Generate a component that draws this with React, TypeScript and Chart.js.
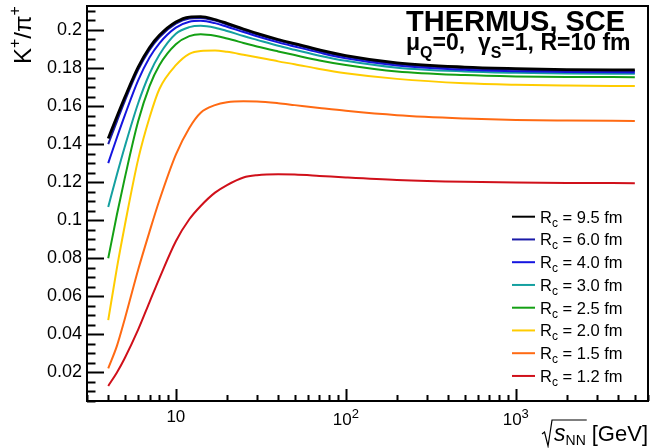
import React, { useEffect, useRef } from "react";
import { Chart, registerables } from "chart.js";

Chart.register(...registerables);

// sqrt(s_NN) in GeV
const energies = [4, 4.5, 5, 6, 7, 8, 10, 12, 14, 17, 20, 25, 30, 40, 50, 70, 100, 200, 500, 1000, 2000, 5020];

const rc95 = [0.143, 0.1545, 0.1645, 0.1805, 0.1908, 0.1972, 0.2042, 0.2068, 0.207, 0.2055, 0.2035, 0.2005, 0.1982, 0.195, 0.1928, 0.1895, 0.1865, 0.1827, 0.1805, 0.1797, 0.1792, 0.179];
const rc60 = [0.14, 0.152, 0.1625, 0.179, 0.1895, 0.1962, 0.2033, 0.206, 0.2063, 0.2049, 0.2029, 0.2, 0.1977, 0.1945, 0.1923, 0.189, 0.186, 0.1821, 0.1799, 0.1791, 0.1786, 0.1784];
const rc40 = [0.13, 0.1435, 0.155, 0.1735, 0.1855, 0.193, 0.2012, 0.2043, 0.2048, 0.2036, 0.2017, 0.1989, 0.1967, 0.1935, 0.1913, 0.1881, 0.1851, 0.1813, 0.1791, 0.1783, 0.1779, 0.1777];
const rc30 = [0.107, 0.124, 0.1385, 0.1615, 0.177, 0.187, 0.198, 0.2015, 0.2022, 0.2012, 0.1995, 0.1968, 0.1948, 0.1917, 0.1896, 0.1865, 0.1838, 0.1802, 0.1782, 0.1775, 0.1771, 0.177];
const rc25 = [0.08, 0.103, 0.122, 0.152, 0.1705, 0.1815, 0.1925, 0.1968, 0.1978, 0.197, 0.1955, 0.1932, 0.1913, 0.1887, 0.1868, 0.184, 0.1816, 0.1782, 0.1763, 0.1756, 0.1753, 0.1752];
const rc20 = [0.0475, 0.075, 0.097, 0.132, 0.154, 0.169, 0.1815, 0.1875, 0.189, 0.1892, 0.1885, 0.187, 0.1857, 0.1835, 0.182, 0.1795, 0.1773, 0.1743, 0.172, 0.1712, 0.1708, 0.1705];
const rc15 = [0.0222, 0.034, 0.048, 0.074, 0.094, 0.1105, 0.1345, 0.1485, 0.1565, 0.1605, 0.162, 0.1625, 0.1624, 0.1615, 0.1605, 0.159, 0.1575, 0.1552, 0.1535, 0.1527, 0.1524, 0.1522];
const rc12 = [0.0129, 0.02, 0.0275, 0.0425, 0.057, 0.0695, 0.089, 0.1005, 0.1075, 0.1145, 0.1185, 0.1225, 0.1237, 0.1242, 0.124, 0.1233, 0.1225, 0.1212, 0.1202, 0.1198, 0.1196, 0.1195];

const seriesValues = [rc95, rc60, rc40, rc30, rc25, rc20, rc15, rc12];
const seriesRadii = ["9.5", "6.0", "4.0", "3.0", "2.5", "2.0", "1.5", "1.2"];
const seriesColors = ["#000000", "#1a1aa8", "#1515e0", "#14a0a0", "#14a014", "#ffcc00", "#ff6a13", "#d0101a"];
const seriesWidths = [2.8, 2, 2, 2, 2, 2, 2, 2];

const yMajorTicks = [0.02, 0.04, 0.06, 0.08, 0.1, 0.12, 0.14, 0.16, 0.18, 0.2];
const yTickLabels = ["0.02", "0.04", "0.06", "0.08", "0.1", "0.12", "0.14", "0.16", "0.18", "0.2"];
const xMajorTicks = [10, 100, 1000];
const xTickBase = ["10", "10", "10"];
const xTickExp = ["", "2", "3"];

const X_MIN = 3;
const X_MAX = 6000;
const Y_MIN = 0.005;
const Y_MAX = 0.2126;

const FONT = "'Liberation Sans', Arial, Helvetica, sans-serif";

type Part = { t: string; f: string; dy?: number };

function richWidth(ctx: CanvasRenderingContext2D, parts: Part[]) {
  let w = 0;
  for (const p of parts) {
    ctx.font = p.f;
    w += ctx.measureText(p.t).width;
  }
  return w;
}

function drawRich(ctx: CanvasRenderingContext2D, parts: Part[], x: number, y: number) {
  let cx = x;
  for (const p of parts) {
    ctx.font = p.f;
    ctx.fillText(p.t, cx, y + (p.dy || 0));
    cx += ctx.measureText(p.t).width;
  }
  return cx;
}

const rootPlugin = {
  id: "rootStyle",
  afterDraw(chart: any) {
    const { ctx, chartArea: a, scales } = chart;
    const xs = scales.x;
    const ys = scales.y;
    ctx.save();
    ctx.fillStyle = "#000";
    ctx.strokeStyle = "#000";
    ctx.textBaseline = "alphabetic";
    ctx.textAlign = "left";

    // ticks (pointing inward)
    ctx.lineWidth = 2;
    ctx.beginPath();
    for (let k = 1; k * 0.005 <= Y_MAX + 1e-9; k++) {
      const v = k * 0.005;
      if (v < Y_MIN - 1e-9) continue;
      const py = Math.round(ys.getPixelForValue(v)) + 0.5;
      const major = k % 4 === 0;
      ctx.moveTo(a.left, py);
      ctx.lineTo(a.left + (major ? 17 : 8.5), py);
    }
    for (let dec = 1; dec <= 1000; dec *= 10) {
      for (let m = 1; m <= 9; m++) {
        const v = m * dec;
        if (v < X_MIN || v > X_MAX) continue;
        const px = Math.round(xs.getPixelForValue(v)) + 0.5;
        const major = m === 1;
        ctx.moveTo(px, a.bottom);
        ctx.lineTo(px, a.bottom - (major ? 12 : 6));
      }
    }
    ctx.stroke();

    // frame
    ctx.lineWidth = 2;
    ctx.strokeRect(a.left, a.top, a.right - a.left, a.bottom - a.top);

    // x tick labels
    xMajorTicks.forEach((v, i) => {
      const px = xs.getPixelForValue(v);
      const parts: Part[] = [{ t: xTickBase[i], f: `17px ${FONT}` }];
      if (xTickExp[i]) parts.push({ t: xTickExp[i], f: `13px ${FONT}`, dy: -7 });
      const w = richWidth(ctx, parts);
      drawRich(ctx, parts, px - w / 2, xTickExp[i] ? 425 : 422);
    });

    // y axis title  K+/pi+
    ctx.save();
    ctx.translate(31, 64);
    ctx.rotate(-Math.PI / 2);
    drawRich(ctx, [
      { t: "K", f: `24px ${FONT}` },
      { t: "+", f: `16px ${FONT}`, dy: -11 },
      { t: "/", f: `24px ${FONT}` },
      { t: "π", f: `24px ${FONT}` },
      { t: "+", f: `16px ${FONT}`, dy: -11 },
    ], 0, 0);
    ctx.restore();

    // x axis title sqrt(s_NN) [GeV]
    const tparts: Part[] = [{ t: "[GeV]", f: `22px ${FONT}` }];
    const gevW = richWidth(ctx, tparts);
    const gevX = 648 - gevW;
    drawRich(ctx, tparts, gevX, 441);
    const sParts: Part[] = [
      { t: "s", f: `italic 23px ${FONT}` },
      { t: "NN", f: `14px ${FONT}`, dy: 4 },
    ];
    const sW = richWidth(ctx, sParts);
    const sX = gevX - 6 - sW;
    drawRich(ctx, sParts, sX, 441);
    ctx.lineWidth = 1.2;
    ctx.beginPath();
    ctx.moveTo(sX - 12, 434);
    ctx.lineTo(sX - 9.5, 432);
    ctx.lineTo(sX - 6, 446);
    ctx.lineTo(sX - 2, 420);
    ctx.lineTo(sX + sW + 1, 420);
    ctx.stroke();

    // header
    drawRich(ctx, [{ t: "THERMUS, SCE", f: `bold 29px ${FONT}` }], 406, 31);
    drawRich(ctx, [
      { t: "μ", f: `bold 23px ${FONT}` },
      { t: "Q", f: `bold 16px ${FONT}`, dy: 8 },
      { t: "=0,  ", f: `bold 23px ${FONT}` },
      { t: "γ", f: `bold 23px ${FONT}` },
      { t: "S", f: `bold 16px ${FONT}`, dy: 8 },
      { t: "=1, R=10 fm", f: `bold 23px ${FONT}` },
    ], 406, 50);

    // legend
    chart.data.datasets.forEach((ds: any, i: number) => {
      const cy = 216.7 + i * 22.75;
      ctx.strokeStyle = ds.borderColor;
      ctx.lineWidth = 2;
      ctx.beginPath();
      ctx.moveTo(512, cy);
      ctx.lineTo(535, cy);
      ctx.stroke();
      drawRich(ctx, [
        { t: "R", f: `16.5px ${FONT}` },
        { t: "c", f: `12px ${FONT}`, dy: 4 },
        { t: ` = ${seriesRadii[i]} fm`, f: `16.5px ${FONT}` },
      ], 540, cy + 6);
    });

    ctx.restore();
  },
};

export default function App() {
  const ref = useRef<HTMLCanvasElement>(null);
  useEffect(() => {
    document.body.style.margin = "0";
    const canvas = ref.current!;
    const datasets = seriesValues.map((vals, i) => ({
      label: `Rc = ${seriesRadii[i]} fm`,
      data: energies.map((e, j) => ({ x: e, y: vals[j] })),
      borderColor: seriesColors[i],
      backgroundColor: seriesColors[i],
      borderWidth: seriesWidths[i],
      pointRadius: 0,
      fill: false,
      cubicInterpolationMode: "monotone" as const,
    }));
    const chart = new Chart(canvas, {
      type: "line",
      data: { datasets },
      options: {
        responsive: false,
        animation: false,
        devicePixelRatio: 1,
        layout: { padding: { left: 0, right: 3, top: 6, bottom: 0 } },
        plugins: { legend: { display: false }, tooltip: { enabled: false } },
        scales: {
          x: {
            type: "logarithmic",
            min: X_MIN,
            max: X_MAX,
            grid: { display: false, drawTicks: false },
            border: { display: false },
            ticks: { display: false },
            afterBuildTicks: (scale: any) => {
              scale.ticks = xMajorTicks.map((v) => ({ value: v }));
            },
            afterFit: (scale: any) => {
              scale.height = 47;
              scale.paddingLeft = 0;
              scale.paddingRight = 0;
            },
          },
          y: {
            type: "linear",
            min: Y_MIN,
            max: Y_MAX,
            grid: { display: false, drawTicks: false },
            border: { display: false },
            afterBuildTicks: (scale: any) => {
              scale.ticks = yMajorTicks.map((v) => ({ value: v }));
            },
            ticks: {
              padding: 5,
              color: "#000",
              font: { family: FONT, size: 18 },
              callback: (_v: any, i: number) => yTickLabels[i],
            },
            afterFit: (scale: any) => {
              scale.width = 87;
              scale.paddingTop = 0;
              scale.paddingBottom = 0;
            },
          },
        },
      },
      plugins: [rootPlugin],
    });
    return () => chart.destroy();
  }, []);
  return (
    <div style={{ position: "fixed", left: 0, top: 0, width: 651, height: 448, background: "#fff" }}>
      <canvas ref={ref} width={651} height={448} style={{ display: "block", width: 651, height: 448 }} />
    </div>
  );
}
